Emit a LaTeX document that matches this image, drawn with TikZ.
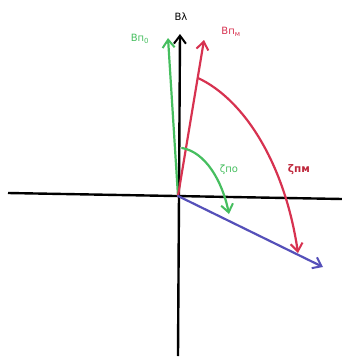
\documentclass[tikz,border=0pt]{standalone}
\usepackage{fontspec}
\setmainfont{DejaVu Sans}
\usetikzlibrary{arrows.meta}
\definecolor{cgreen}{RGB}{70,190,95}
\definecolor{cred}{RGB}{215,50,80}
\definecolor{cdred}{RGB}{190,40,60}
\definecolor{cblue}{RGB}{85,80,185}
\begin{document}
\begin{tikzpicture}[x=1pt,y=-1pt,
  tip/.style={-{Straight Barb[length=8pt,width=12pt,line width=2pt]}},
  vec/.style={line width=2.2pt,line cap=round,tip},
  lbl/.style={inner sep=0pt,font=\fontsize{10}{11}\selectfont}]
\useasboundingbox (0,0) rectangle (342,362);
\coordinate (O) at (178,196);
\coordinate (xl) at (8,193);
\coordinate (xr) at (342,199);
\coordinate (yb) at (178,356);
\coordinate (yt) at (180,34);
\coordinate (gt) at (168,38);
\coordinate (rt) at (204,40);
\coordinate (bt) at (323,267);
\coordinate (ras) at (198,78);
\coordinate (rae) at (298,253);
\coordinate (gas) at (182,148);
\coordinate (gae) at (229,214);
% axes
\draw[line width=2.4pt] (xl) -- (xr);
\draw[line width=2.4pt,tip] (yb) -- (yt);
% vectors
\draw[vec,cgreen] (O) -- (gt);
\draw[vec,cred] (O) -- (rt);
\draw[vec,cblue] (O) -- (bt);
% arcs
\draw[vec,cred] (ras) .. controls (245,100) and (285,165) .. (rae);
\draw[vec,cgreen] (gas) .. controls (205,152) and (222,180) .. (gae);
% labels
\node[lbl] (lB) at (181,17) {Вλ};
\node[lbl,cgreen] (lB0) at (140,39) {Вп\textsubscript{0}};
\node[lbl,cred] (lBm) at (231,32) {Вп\textsubscript{м}};
\node[lbl,cgreen] (lz0) at (229,170) {ζпо};
\node[lbl,cdred,font=\fontsize{10.5}{11}\selectfont\bfseries] (lzm) at (299,170) {ζпм};
\end{tikzpicture}
\end{document}
